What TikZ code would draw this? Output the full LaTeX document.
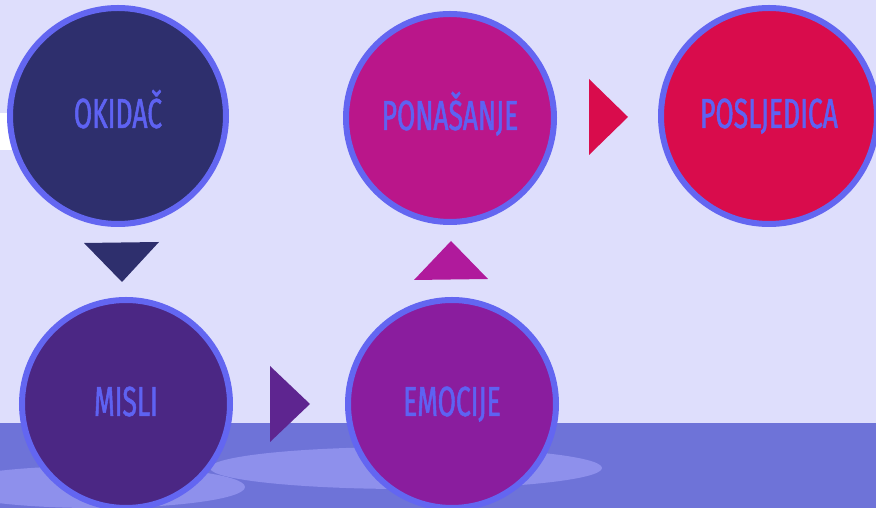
\documentclass[tikz,border=0pt]{standalone}
\usepackage{fontspec}
\setmainfont[FakeStretch=0.63,FakeBold=1.2]{Fira Sans}
\usepackage{tikz}

\definecolor{bgcol}{HTML}{DEDEFC}
\definecolor{floorcol}{HTML}{6E73D8}
\definecolor{puddlecol}{HTML}{8E90EC}
\definecolor{ringcol}{HTML}{6366F1}
\definecolor{labelcol}{HTML}{5E62F2}
\definecolor{okidaccol}{HTML}{2E2F6D}
\definecolor{mislicol}{HTML}{4B2784}
\definecolor{emocijecol}{HTML}{8A1D9E}
\definecolor{ponasanjecol}{HTML}{BA168A}
\definecolor{posljedicacol}{HTML}{D90C4C}
\definecolor{mislitricol}{HTML}{5E2590}
\definecolor{emocijetricol}{HTML}{B01A9C}

\tikzset{
  stage/.style={circle, draw=ringcol, line width=6pt, text=labelcol,
    inner sep=0pt, text height=24pt, text depth=0pt,
    font=\fontsize{42}{42}\selectfont}
}

\begin{document}
\begin{tikzpicture}[x=1pt,y=1pt]
\useasboundingbox (0,0) rectangle (876,508);
\fill[bgcol] (0,0) rectangle (876,508);
\fill[white] (0,358) rectangle (12,395);
\fill[floorcol] (0,0) rectangle (876,85);
\fill[puddlecol] (95,21) ellipse (150 and 21);
\fill[puddlecol] (406,40) ellipse (196 and 21);

\node[stage, fill=okidaccol, minimum size=216pt] (okidac) at (118,392) {OKIDAČ};
\node[stage, fill=ponasanjecol, minimum size=208pt] (ponasanje) at (450,390) {PONAŠANJE};
\node[stage, fill=posljedicacol, minimum size=216pt] (posljedica) at (769,392) {POSLJEDICA};
\node[stage, fill=mislicol, minimum size=208pt] (misli) at (126,104) {MISLI};
\node[stage, fill=emocijecol, minimum size=208pt] (emocije) at (452,104) {EMOCIJE};

% triangles between the stages
\fill[okidaccol] (84,265) -- (159,266) -- (122,226) -- cycle;
\fill[mislitricol] (270,142) -- (270,66) -- (310,104) -- cycle;
\fill[emocijetricol] (414,228) -- (488,229) -- (451,267) -- cycle;
\fill[posljedicacol] (589,429) -- (589,353) -- (628,391) -- cycle;
\end{tikzpicture}
\end{document}
